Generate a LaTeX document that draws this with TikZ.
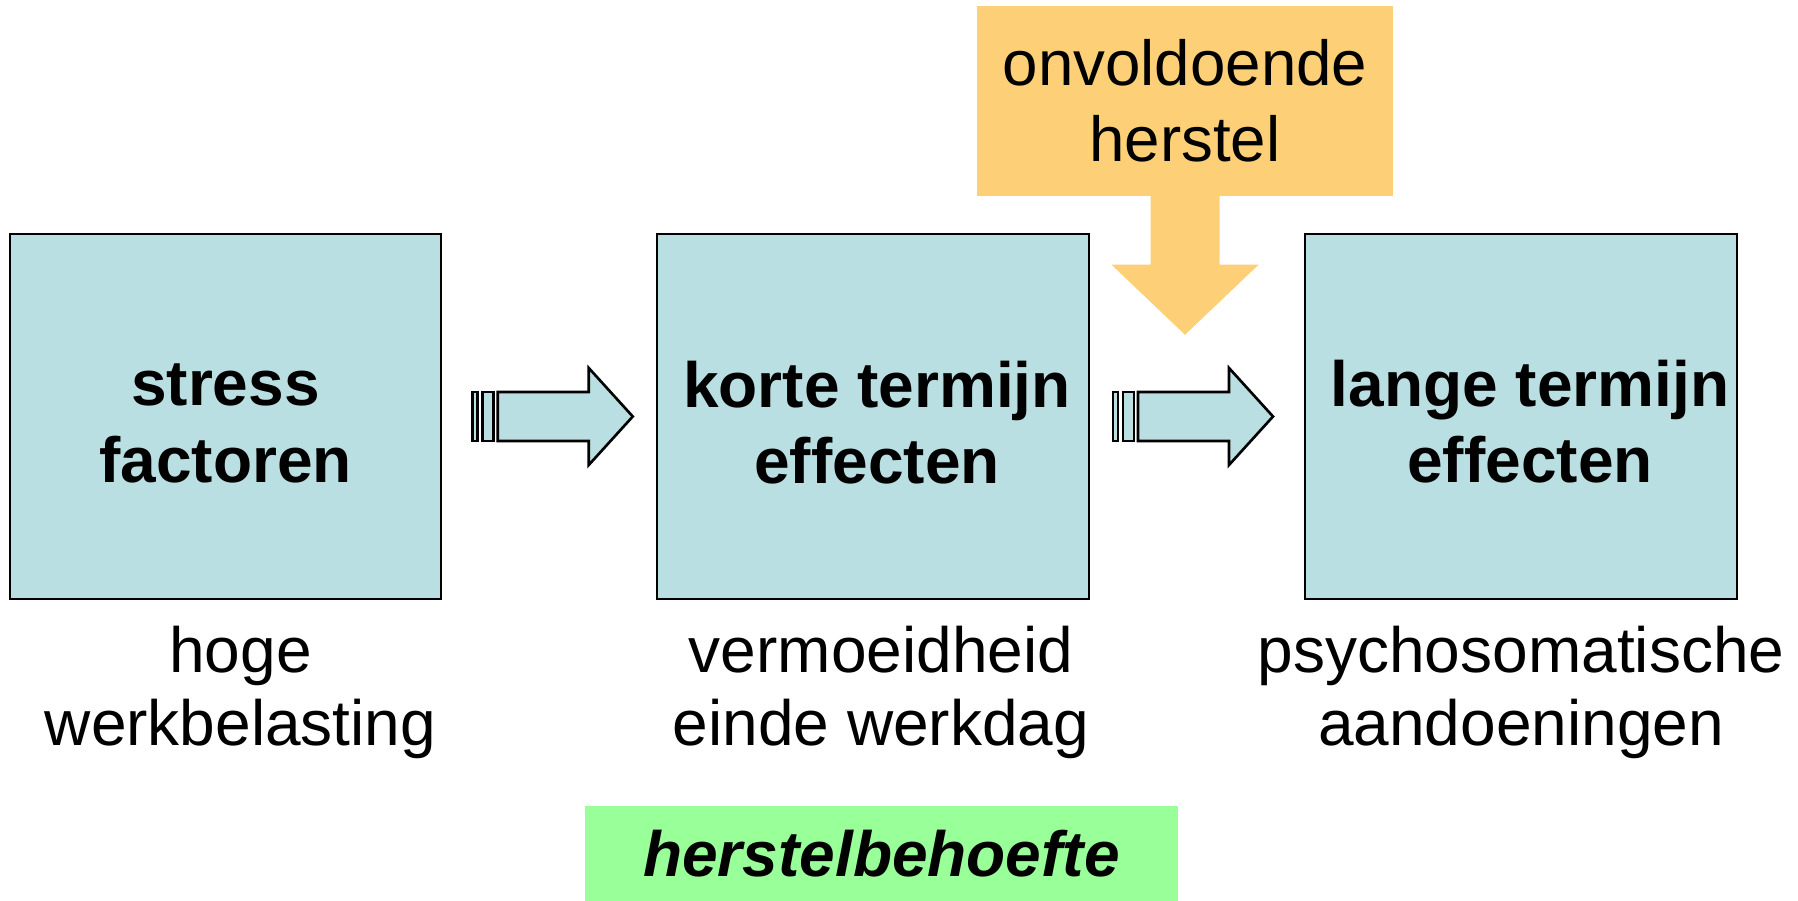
\documentclass[tikz,border=0pt]{standalone}
\usepackage{fontspec}
\setmainfont{Liberation Sans}
\usetikzlibrary{positioning,calc}
\definecolor{boxblue}{RGB}{186,223,226}
\definecolor{herstelorange}{RGB}{253,208,120}
\definecolor{herstelgreen}{RGB}{153,255,153}

\tikzset{
  factor/.style={draw=black, line width=0.6pt, fill=boxblue, minimum width=4.31cm, minimum height=3.65cm, inner sep=0pt},
  factortekst/.style={align=center, inner sep=0pt, font=\fontsize{18.2}{21.8}\selectfont\bfseries},
  uitleg/.style={align=center, inner sep=0pt, font=\fontsize{18.2}{20.7}\selectfont},
  blokpijl/.style={draw=black, line width=0.75pt, fill=boxblue},
}

\begin{document}
\begin{tikzpicture}[x=0.01cm, y=-0.01cm]
\useasboundingbox (0,0) rectangle (1798,901);

% de drie blokken
\node[factor] (stress) at (225.5,416.5) {};
\node[factor] (korte) at (873,416.5) {};
\node[factor] (lange) at (1521,416.5) {};
\node[factortekst] (stresstekst) at ($(stress)+(0,7)$) {stress\\factoren};
\node[factortekst] (kortetekst) at ($(korte)+(4,6)$) {korte termijn\\effecten};
\node[factortekst] (langetekst) at ($(lange)+(9,5)$) {lange termijn\\effecten};

% toelichting onder de blokken
\node[uitleg, below=0.25cm of stress, xshift=0.15cm] (hoge) {hoge\\werkbelasting};
\node[uitleg, below=0.25cm of korte, xshift=0.08cm] (vermoeid) {vermoeidheid\\einde werkdag};
\node[uitleg, below=0.25cm of lange] (psycho) {psychosomatische\\aandoeningen};

% blokpijlen tussen de blokken
\foreach \a/\b/\d in {stress/korte/3.5, korte/lange/-4} {
  \begin{scope}[shift={($(\a.east)!0.5!(\b.west)+(\d,0)$)}]
    \draw[blokpijl] (-80,-24.5) rectangle (-75,24.5);
    \draw[blokpijl] (-70,-24.5) rectangle (-59,24.5);
    \draw[blokpijl] (-55,-24.5) -- (36,-24.5) -- (36,-48.5) -- (80,0)
      -- (36,48.5) -- (36,24.5) -- (-55,24.5) -- cycle;
  \end{scope}
}

% onvoldoende herstel
\node[fill=herstelorange, minimum width=4.16cm, minimum height=1.9cm, align=center, inner sep=0pt,
  font=\fontsize{18.1}{21.5}\selectfont] (onv) at (1185,101) {onvoldoende\\herstel};
\fill[herstelorange, shift={(onv.south)}] (-34.5,-1) -- (-34.5,68) -- (-73.5,68) -- (0,138)
  -- (73.5,68) -- (34.5,68) -- (34.5,-1) -- cycle;

% herstelbehoefte
\node[fill=herstelgreen, minimum width=5.93cm, minimum height=0.95cm, inner sep=0pt,
  font=\fontsize{18.2}{21}\selectfont\bfseries\itshape] (behoefte) at (881.5,853.5) {herstelbehoefte};
\end{tikzpicture}
\end{document}
